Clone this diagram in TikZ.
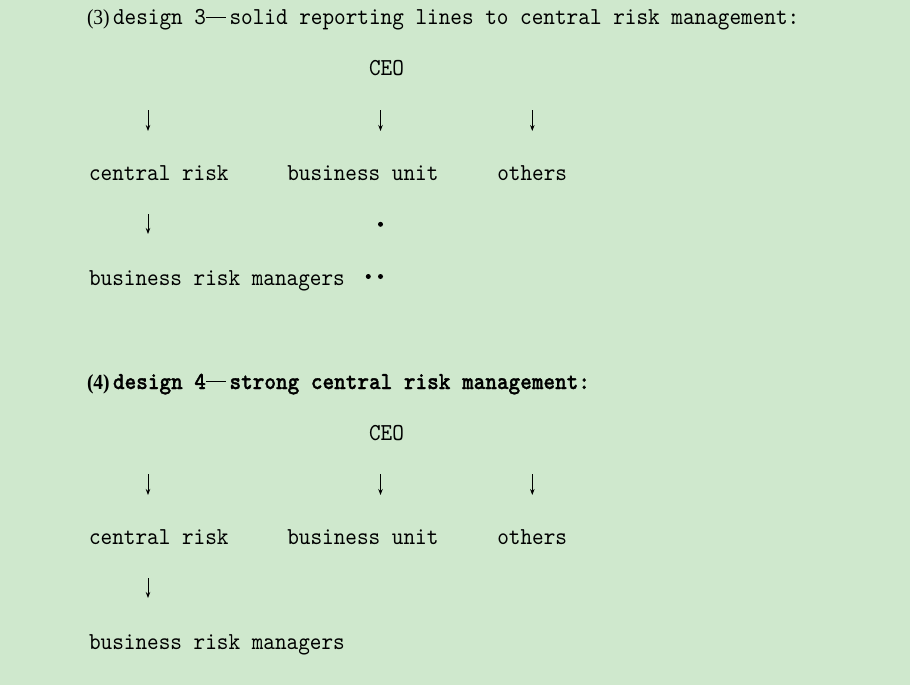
\documentclass[tikz,border=0pt]{standalone}
\usepackage{fontspec}
\usepackage{graphicx}
\usetikzlibrary{arrows.meta}
\newfontfamily\monoreg{lmmono10-regular.otf}
\newfontfamily\monobold{lmmonolt10-bold.otf}[FakeBold=1.2]
\newfontfamily\numfont{Liberation Serif}
\definecolor{bgc}{RGB}{207,232,205}
\newcommand{\vs}[1]{\scalebox{1}[1.1]{#1}}
\newcommand{\pnum}[2]{\makebox[26pt][l]{\scalebox{1.3}[1.3]{\numfont#1\fontsize{15pt}{15pt}\selectfont(#2)}}}
\tikzset{
  txt/.style={anchor=base west, inner sep=0pt, outer sep=0pt, font=\monoreg\fontsize{22.15pt}{26pt}\selectfont},
  btxt/.style={anchor=base west, inner sep=0pt, outer sep=0pt, font=\monobold\fontsize{22.15pt}{26pt}\selectfont},
  arr/.style={-{Stealth[length=6pt,width=4.5pt]}, line width=0.9pt, black},
  dotn/.style={circle, fill=black, inner sep=0pt, minimum size=5pt}
}
\begin{document}
\begin{tikzpicture}[x=1pt,y=-1pt]
\useasboundingbox (0,0) rectangle (910,685);
\fill[bgc] (0,0) rectangle (910,685);

% ---------- design 3 ----------
\node[txt] (t1) at (87,25) {\vs{\pnum{}{3}design 3\makebox[23.5pt][l]{\rule[6.2pt]{20pt}{1pt}}solid reporting lines to central risk management:}};
\node[txt] (ceo1) at (369,76) {\vs{CEO}};
\coordinate (a1s) at (148,110); \coordinate (a1e) at (148,131);
\coordinate (a2s) at (380.5,110); \coordinate (a2e) at (380.5,131);
\coordinate (a3s) at (532.3,110); \coordinate (a3e) at (532.3,131);
\draw[arr] (a1s) -- (a1e);
\draw[arr] (a2s) -- (a2e);
\draw[arr] (a3s) -- (a3e);
\node[txt] (cr1) at (89,180) {\vs{central risk}};
\node[txt] (bu1) at (287.3,180) {\vs{business unit}};
\node[txt] (ot1) at (497.3,180) {\vs{others}};
\coordinate (a4s) at (148,214); \coordinate (a4e) at (148,234);
\draw[arr] (a4s) -- (a4e);
\node[dotn] (d1) at (380.5,224.3) {};
\node[txt] (brm1) at (89,285) {\vs{business risk managers}};
\node[dotn] (d2) at (368.3,276.5) {};
\node[dotn] (d3) at (380.5,276.5) {};

% ---------- design 4 ----------
\node[btxt] (t2) at (87,389) {\vs{\pnum{\bfseries}{4}design 4\makebox[23.5pt][l]{\rule[6.2pt]{20pt}{1.3pt}}strong central risk management:}};
\node[txt] (ceo2) at (369,440) {\vs{CEO}};
\coordinate (b1s) at (148,474); \coordinate (b1e) at (148,495);
\coordinate (b2s) at (380.5,474); \coordinate (b2e) at (380.5,495);
\coordinate (b3s) at (532.3,474); \coordinate (b3e) at (532.3,495);
\draw[arr] (b1s) -- (b1e);
\draw[arr] (b2s) -- (b2e);
\draw[arr] (b3s) -- (b3e);
\node[txt] (cr2) at (89,544) {\vs{central risk}};
\node[txt] (bu2) at (287.3,544) {\vs{business unit}};
\node[txt] (ot2) at (497.3,544) {\vs{others}};
\coordinate (b4s) at (148,578); \coordinate (b4e) at (148,598);
\draw[arr] (b4s) -- (b4e);
\node[txt] (brm2) at (89,649) {\vs{business risk managers}};
\end{tikzpicture}
\end{document}
